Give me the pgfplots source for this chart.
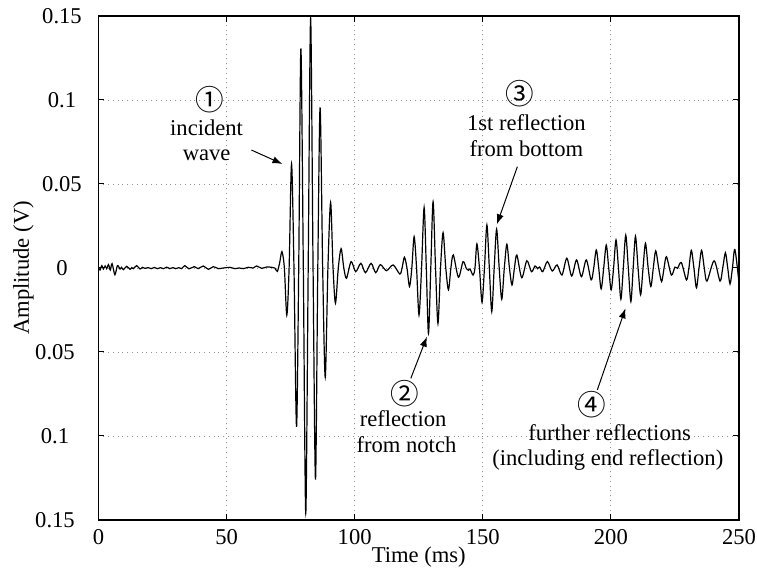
\documentclass[border=0pt]{standalone}
\usepackage{pgfplots}
\pgfplotsset{compat=1.18}
\usepackage{fontspec}
\setmainfont{Liberation Serif}
\newfontfamily\cjk{Noto Sans CJK JP}
\usetikzlibrary{arrows.meta}
\newcommand{\circnum}[1]{{\cjk\fontsize{14.3}{16}\selectfont #1}}

\begin{document}
\fontsize{11.3}{13.5}\selectfont
\begin{tikzpicture}
\useasboundingbox (-49.25pt,-30.5pt) rectangle (329.25pt,260pt);
\begin{axis}[
  at={(0,0)}, anchor=south west,
  scale only axis, width=320.25pt, height=252pt,
  xmin=0, xmax=250, ymin=-0.15, ymax=0.15,
  xtick={0,50,...,250},
  ytick={-0.15,-0.1,-0.05,0,0.05,0.1,0.15},
  yticklabels={0.15\kern7pt,0.1\kern7pt,0.05\kern7pt,0,0.05,0.1,0.15},
  /pgf/number format/assume math mode=true,
  grid=major,
  grid style={dotted, gray!85, line width=0.45pt},
  axis line style={line width=0.8pt},
  major tick length=3pt,
  tick style={black, line width=0.5pt},
  every x tick label/.append style={yshift=-0.7pt},
  every y tick label/.append style={anchor=center, xshift=-18.25pt},
  xlabel={Time (ms)}, ylabel={Amplitude (V)},
  every axis x label/.style={at={(axis description cs:0.5,-0.0853)}, anchor=base},
  every axis y label/.style={at={(axis description cs:-0.1085,0.5)}, rotate=90, anchor=base},
]
\addplot[black, line width=0.6pt, smooth, tension=0.5] coordinates {
(0,0.0005) (0.6,-0.0012) (1.3,0.0014) (1.9,-0.0006) (2.6,0.0012) (3.2,-0.0004)
(3.9,0.0020) (4.6,-0.0012) (5.3,0.0026) (6.4,-0.0040) (7.4,0.0014) (8.4,-0.0006)
(9.0,0.0004) (9.7,-0.0010) (11.0,0.0010) (12.3,-0.0008) (13.0,0.0002) (13.6,-0.0004)
(14.9,0.0014) (16.2,-0.0006) (17.2,0.0004) (18.1,-0.0002) (19.4,0.0002) (20.6,-0.0004)
(21.8,0.0003) (23.0,-0.0004) (24.2,0.0002) (25.4,-0.0004) (26.6,0.0005) (27.8,-0.0004)
(29.0,0.0002) (30.2,-0.0004) (31.3,0.0002) (32.4,-0.0004) (33.7,0.0014) (35.3,-0.0005)
(37.4,0.0008) (38.9,-0.0004) (40.9,0.0012) (42.9,-0.0008) (44.8,0.0008) (46.8,-0.0004)
(48.7,0.0) (50.0,0.0002) (51.3,0.0004) (53.3,-0.0004) (54.9,0.0) (56.5,-0.0004)
(58.5,0.0004) (60.4,0.0) (61.7,0.0012) (63.7,-0.0002) (65.6,0.0006) (67.6,0.0004)
(68.8,0.0) (69.8,-0.0020) (70.7,0.003) (71.6,0.0097) (72.55,0) (73.5,-0.028)
(74.4,0) (75.35,0.062) (76.3,0) (77.3,-0.0945) (78.15,0) (79.0,0.1307)
(79.95,0) (80.9,-0.146) (81.85,0) (82.8,0.1486) (83.75,0) (84.7,-0.126)
(85.6,0) (86.5,0.0956) (87.5,0) (88.5,-0.065) (89.55,0) (90.6,0.039)
(91.55,0) (92.5,-0.021) (93.6,0) (94.7,0.0115) (95.75,0) (96.8,-0.0061)
(98.6,0.0038) (100.4,-0.0022) (102.4,0.0028) (104.2,-0.0028) (106.4,0.0028) (108.2,-0.0028)
(110.0,0.002) (112.4,-0.0016) (115.0,0.0018) (117.6,-0.0036) (118.5,0) (119.4,0.0064)
(120.4,0) (121.4,-0.011) (122.3,0) (123.2,0.0187) (124.15,0) (125.1,-0.028)
(126.1,0) (127.1,0.036) (127.95,0) (128.8,-0.039) (129.7,0) (130.6,0.0395)
(131.55,0) (132.5,-0.033) (133.5,0) (134.5,0.021) (135.55,0) (136.6,-0.013)
(137.55,0) (138.5,0.0077) (140.5,-0.0055) (142.3,0.0038) (143.6,-0.0004) (144.4,-0.0014)
(145.0,-0.0006) (146.2,-0.0042) (146.95,0) (147.7,0.0143) (148.7,0) (149.7,-0.0204)
(150.65,0) (151.6,0.0256) (152.55,0) (153.5,-0.026) (154.45,0) (155.4,0.023)
(156.4,0) (157.4,-0.0186) (158.4,0) (159.4,0.0141) (160.4,0) (161.4,-0.0101)
(162.35,0) (163.3,0.0077) (165.2,-0.0058) (167.2,0.0043) (169.0,-0.0022) (170.4,0.0012)
(171.4,-0.0004) (172.2,0.0006) (173.4,-0.0022) (175.2,0.0038) (177.1,-0.0018) (179.0,0.0018)
(180.9,-0.0042) (182.8,0.0058) (184.7,-0.0048) (186.6,0.0048) (188.5,-0.0052) (190.4,0.0048)
(192.3,-0.0071) (193.3,0) (194.3,0.0107) (195.25,0) (196.2,-0.0125) (197.2,0)
(198.2,0.0137) (199.15,0) (200.1,-0.013) (201.05,0) (202.0,0.0167) (202.95,0)
(203.9,-0.0186) (204.85,0) (205.8,0.0196) (206.8,0) (207.8,-0.020) (208.7,0)
(209.6,0.019) (210.6,0) (211.6,-0.016) (212.55,0) (213.5,0.0147) (214.55,0)
(215.6,-0.011) (216.55,0) (217.5,0.0102) (218.65,0) (219.8,-0.0081) (220.75,0)
(221.7,0.0067) (223.6,-0.0042) (225.0,0.0005) (226.0,-0.0002) (227.5,0.0032) (229.5,-0.0071)
(230.45,0) (231.4,0.0105) (232.4,0) (233.4,-0.0118) (234.4,0) (235.4,0.0105)
(236.45,0) (237.5,-0.0078) (240.3,0.0043) (242.6,-0.0078) (243.65,0) (244.7,0.009)
(245.6,0) (246.5,-0.0095) (247.45,0) (248.4,0.011) (250,-0.009)
};
% annotations
\node at (axis cs:43.5,0.1) {\circnum{①}};
\node at (axis cs:42.2,0.0833) {incident};
\node at (axis cs:42.2,0.0673) {wave};
\draw[-{Latex[length=5pt,width=3.6pt]}, line width=0.5pt] (axis cs:59.7,0.0702) -- (axis cs:71.8,0.0619);

\node at (axis cs:119.5,-0.0746) {\circnum{②}};
\node at (axis cs:118.9,-0.0895) {reflection};
\node at (axis cs:120.2,-0.1054) {from notch};
\draw[-{Latex[length=5pt,width=3.6pt]}, line width=0.5pt] (axis cs:121.9,-0.0657) -- (axis cs:128.2,-0.0409);

\node at (axis cs:164.4,0.104) {\circnum{③}};
\node at (axis cs:167.0,0.0865) {1st reflection};
\node at (axis cs:167.0,0.0712) {from bottom};
\draw[-{Latex[length=5pt,width=3.6pt]}, line width=0.5pt] (axis cs:163.5,0.0603) -- (axis cs:155.5,0.026);

\node at (axis cs:192.6,-0.0815) {\circnum{④}};
\node at (axis cs:199.5,-0.098) {further reflections};
\node at (axis cs:198.8,-0.1143) {(including end reflection)};
\draw[-{Latex[length=5pt,width=3.6pt]}, line width=0.5pt] (axis cs:194.7,-0.0726) -- (axis cs:205.7,-0.024);
\end{axis}
\end{tikzpicture}
\end{document}
